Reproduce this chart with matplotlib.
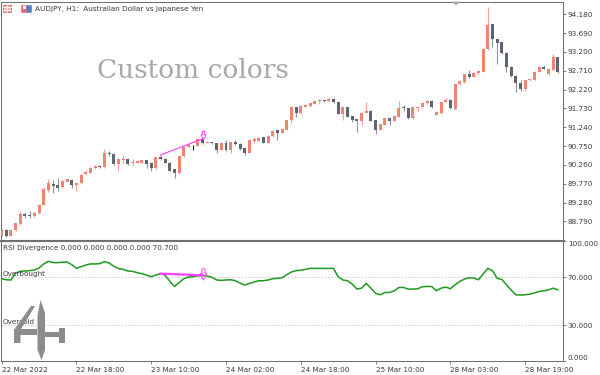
import matplotlib
matplotlib.use('Agg')
import matplotlib.pyplot as plt
from matplotlib.patches import Polygon, Rectangle
from matplotlib.path import Path
from matplotlib.transforms import Affine2D
from matplotlib.lines import Line2D
import numpy as np

# ---------------- data ----------------
opens = [88.43, 88.57, 88.41, 88.57, 88.72, 88.99, 88.96, 88.92, 89.00, 89.22,
         89.61, 89.77, 89.73, 89.68, 89.83, 89.87, 89.74, 89.78, 90.02, 90.06,
         90.17, 90.23, 90.20, 90.58, 90.55, 90.29, 90.39, 90.42, 90.30, 90.32,
         90.32, 90.39, 90.32, 90.17, 90.48, 90.42, 90.32, 90.15, 90.06, 90.49,
         90.74, 90.77, 90.76, 90.93, 90.84, 90.85, 90.82, 90.65, 90.84, 90.65,
         90.87, 90.81, 90.69, 90.58, 90.89, 90.89, 90.98, 90.84, 91.01, 91.17,
         91.10, 91.17, 91.43, 91.76, 91.60, 91.78, 91.80, 91.85, 91.93, 91.95,
         91.92, 91.97, 91.89, 91.59, 91.76, 91.53, 91.45, 91.41, 91.60, 91.67,
         91.43, 91.17, 91.31, 91.47, 91.41, 91.52, 91.75, 91.73, 91.47, 91.73,
         91.76, 91.86, 91.93, 91.57, 91.60, 91.91, 91.95, 91.71, 92.36, 92.43,
         92.63, 92.56, 92.65, 92.69, 93.27, 93.92, 93.54, 93.45, 93.18, 92.82,
         92.58, 92.39, 92.25, 92.46, 92.47, 92.69, 92.82, 92.63, 92.73, 93.06]
highs = [88.59, 88.59, 88.58, 88.75, 89.06, 89.03, 89.05, 89.03, 89.23, 89.68,
         89.90, 89.87, 89.91, 89.87, 89.90, 89.90, 89.80, 90.02, 90.10, 90.21,
         90.25, 90.25, 90.67, 90.62, 90.56, 90.44, 90.51, 90.43, 90.42, 90.37,
         90.40, 90.40, 90.33, 90.47, 90.52, 90.44, 90.33, 90.16, 90.51, 90.75,
         90.82, 90.78, 90.94, 90.96, 90.88, 90.86, 90.83, 90.85, 90.91, 90.87,
         90.91, 90.82, 90.70, 90.92, 91.00, 90.98, 90.99, 91.03, 91.16, 91.18,
         91.20, 91.44, 91.77, 91.77, 91.81, 91.83, 91.88, 91.95, 91.97, 91.96,
         92.04, 91.99, 91.90, 91.77, 91.77, 91.54, 91.46, 91.62, 91.91, 91.68,
         91.44, 91.33, 91.48, 91.48, 91.55, 91.93, 91.83, 91.75, 91.77, 91.79,
         91.88, 91.95, 91.94, 91.66, 91.91, 91.99, 91.97, 92.38, 92.46, 92.64,
         92.72, 92.67, 92.73, 93.30, 94.36, 93.93, 93.55, 93.46, 93.19, 92.83,
         92.59, 92.47, 92.48, 92.50, 92.70, 92.83, 92.86, 92.76, 93.15, 93.07]
lows = [88.41, 88.38, 88.40, 88.53, 88.70, 88.87, 88.87, 88.90, 88.99, 89.21,
        89.55, 89.52, 89.58, 89.66, 89.82, 89.65, 89.58, 89.77, 90.01, 90.05,
        90.16, 90.19, 90.19, 90.49, 90.27, 90.10, 90.32, 90.27, 90.26, 90.31,
        90.31, 90.17, 90.11, 90.16, 90.39, 90.30, 90.10, 89.93, 90.03, 90.48,
        90.72, 90.66, 90.75, 90.81, 90.83, 90.81, 90.58, 90.64, 90.63, 90.56,
        90.77, 90.65, 90.52, 90.57, 90.82, 90.88, 90.83, 90.83, 91.00, 90.91,
        91.09, 91.16, 91.36, 91.52, 91.59, 91.76, 91.78, 91.84, 91.85, 91.90,
        91.90, 91.88, 91.58, 91.43, 91.50, 91.38, 91.13, 91.30, 91.60, 91.40,
        91.07, 91.16, 91.30, 91.29, 91.40, 91.50, 91.66, 91.46, 91.46, 91.65,
        91.75, 91.85, 91.75, 91.56, 91.59, 91.90, 91.72, 91.70, 92.35, 92.39,
        92.53, 92.55, 92.63, 92.68, 93.26, 93.32, 92.88, 93.15, 92.69, 92.56,
        92.17, 92.19, 92.19, 92.45, 92.46, 92.67, 92.75, 92.61, 92.72, 92.65]
closes = [88.55, 88.40, 88.57, 88.74, 88.98, 88.93, 88.92, 89.02, 89.22, 89.63,
          89.78, 89.71, 89.66, 89.85, 89.89, 89.74, 89.78, 90.01, 90.09, 90.19,
          90.23, 90.20, 90.58, 90.55, 90.29, 90.42, 90.42, 90.29, 90.35, 90.36,
          90.39, 90.29, 90.17, 90.46, 90.42, 90.32, 90.11, 90.06, 90.49, 90.74,
          90.78, 90.77, 90.93, 90.82, 90.87, 90.82, 90.65, 90.84, 90.65, 90.86,
          90.81, 90.67, 90.58, 90.91, 90.93, 90.97, 90.84, 91.01, 91.14, 91.10,
          91.19, 91.43, 91.76, 91.60, 91.80, 91.81, 91.86, 91.93, 91.95, 91.92,
          91.98, 91.90, 91.59, 91.76, 91.52, 91.43, 91.41, 91.60, 91.67, 91.41,
          91.17, 91.32, 91.47, 91.41, 91.54, 91.73, 91.73, 91.47, 91.76, 91.78,
          91.86, 91.93, 91.76, 91.65, 91.90, 91.95, 91.73, 92.37, 92.45, 92.63,
          92.56, 92.66, 92.71, 93.29, 93.91, 93.53, 93.44, 93.17, 92.82, 92.58,
          92.39, 92.25, 92.47, 92.49, 92.69, 92.82, 92.77, 92.75, 93.06, 92.69]

rsi = [68.6, 67.7, 67.5, 73.3, 74.7, 75.0, 75.3, 75.8, 77.5, 80.9,
       83.1, 82.0, 82.0, 82.3, 82.5, 80.3, 77.2, 78.6, 80.0, 80.9,
       80.9, 81.1, 82.8, 81.7, 78.9, 77.0, 76.4, 75.0, 74.7, 73.6,
       72.8, 71.6, 70.2, 71.6, 72.8, 71.4, 66.3, 62.1, 65.5, 68.6,
       70.0, 70.2, 71.1, 71.4, 70.8, 69.7, 67.5, 67.2, 67.5, 67.7,
       66.9, 64.9, 63.3, 64.7, 65.8, 66.9, 66.9, 67.5, 68.6, 68.9,
       69.4, 71.9, 74.2, 75.3, 75.6, 76.4, 77.2, 77.2, 77.2, 77.2,
       77.2, 77.2, 70.2, 67.5, 66.9, 64.1, 59.9, 60.7, 64.7, 60.7,
       56.3, 55.2, 57.1, 57.1, 58.5, 61.3, 61.3, 59.9, 59.9, 60.2,
       61.9, 62.1, 62.1, 58.5, 60.7, 61.6, 60.2, 63.5, 66.3, 68.3,
       69.4, 69.1, 67.7, 72.5, 77.2, 75.3, 68.9, 68.0, 63.5, 59.1,
       55.2, 54.9, 55.2, 55.7, 56.8, 57.9, 58.5, 59.3, 60.7, 59.3]

# divergence marks (bar index, value)
div_bars = [34, 43]
div_price = [90.52, 90.94]
div_rsi = [72.8, 71.4]
arrow_bar = 43
arrow_price = 91.04
arrow_rsi = 72.2

price_ticks = [88.79, 89.28, 89.77, 90.26, 90.75, 91.24, 91.73, 92.22, 92.71, 93.20, 93.69, 94.18]
rsi_ticks = [0, 30, 70, 100]
time_tick_bars = [0, 16, 32, 48, 64, 80, 96, 112]
time_tick_labels = ['22 Mar 2022', '22 Mar 18:00', '23 Mar 10:00', '24 Mar 02:00',
                    '24 Mar 18:00', '25 Mar 10:00', '28 Mar 03:00', '28 Mar 19:00']
title = 'AUDJPY, H1:  Australian Dollar vs Japanese Yen'
ind_title = 'RSI Divergence 0.000 0.000 0.000 0.000 70.700'

# ---------------- style ----------------
BULL = '#EF8472'
BEAR = '#5E6570'
BULL_W = '#F3A396'
BEAR_W = '#8E949C'
DOJI = '#222222'
GREEN = '#1F9A1F'
MAG = '#FF3CFF'
AXC = '#6A6A6A'
TXT = '#3A3A3A'
FONT = ['DejaVu Sans']

W, H = 600, 375
fig = plt.figure(figsize=(6, 3.75), dpi=100)
fig.patch.set_facecolor('white')
PX = Affine2D().scale(1 / W, -1 / H).translate(0, 1) + fig.transFigure


def fx(p):
    return p / W


def fy(p):
    return 1 - p / H


ax = fig.add_axes([fx(1), fy(240), fx(563) - fx(1), fy(2) - fy(240)])
ax2 = fig.add_axes([fx(1), fy(361), fx(563) - fx(1), fy(241) - fy(361)])

o = np.array(opens); h = np.array(highs); l = np.array(lows); c = np.array(closes)
idx = np.arange(len(o))
doji = np.abs(c - o) < 0.005
up = (c >= o) & ~doji
dn = (c < o) & ~doji

ax.vlines(idx[up], l[up], h[up], color=BULL_W, lw=0.8, zorder=2)
ax.vlines(idx[dn], l[dn], h[dn], color=BEAR_W, lw=0.8, zorder=2)
ax.vlines(idx[doji], l[doji], h[doji], color=DOJI, lw=0.8, zorder=2)
body_lo = np.minimum(o, c)
body_h = np.maximum(np.abs(c - o), 0.028)
ax.bar(idx[up], body_h[up], bottom=body_lo[up], width=0.64, color=BULL, lw=0, zorder=3)
ax.bar(idx[dn], body_h[dn], bottom=body_lo[dn], width=0.64, color=BEAR, lw=0, zorder=3)
ax.bar(idx[doji], 0.02, bottom=body_lo[doji], width=0.9, color=DOJI, lw=0, zorder=3)

ax.plot(div_bars, div_price, color=MAG, lw=0.8, zorder=4)

arrow = Path([(-0.28, 1), (0.28, 1), (0.28, 0.15), (0.6, 0.15), (0, -1), (-0.6, 0.15),
              (-0.28, 0.15), (-0.28, 1)],
             [Path.MOVETO] + [Path.LINETO] * 6 + [Path.CLOSEPOLY])
ax.plot([arrow_bar], [arrow_price], marker=arrow, ms=6, mfc='none', mec=MAG, mew=0.7, zorder=5)

XL = (-0.13, 120.09)
ax.set_xlim(*XL)
ax.set_ylim(88.308, 94.501)
ax.set_xticks([])
ax.yaxis.tick_right()
ax.set_yticks(price_ticks)
ax.set_yticklabels(['%.3f' % v for v in price_ticks])
ax.tick_params(axis='y', direction='out', length=2.2, width=0.6, color=AXC, pad=1.2,
               labelsize=5.2, labelcolor=TXT)
for s in ['left', 'top', 'right']:
    ax.spines[s].set_color(AXC)
    ax.spines[s].set_linewidth(0.7)
ax.spines['bottom'].set_visible(False)

ax.text(97, 71, 'Custom colors', transform=PX, fontsize=19, color='#A8A8A8',
        family='DejaVu Serif', va='center', ha='left')

# RSI panel
ax2.plot(idx, rsi, color=GREEN, lw=1.1, zorder=3)
ax2.plot(div_bars, div_rsi, color=MAG, lw=1.6, zorder=4)
ax2.plot([arrow_bar], [arrow_rsi], marker=arrow, ms=8, mfc='none', mec=MAG, mew=0.7, zorder=5)
for lv in (70, 30):
    ax2.axhline(lv, color='#C4C4C4', lw=0.6, dashes=(2, 2), zorder=1)
ax2.set_xlim(*XL)
ax2.set_ylim(0, 100)
ax2.yaxis.tick_right()
ax2.set_yticks(rsi_ticks)
ax2.set_yticklabels(['%.3f' % v for v in rsi_ticks])
ax2.tick_params(axis='y', direction='out', length=2.2, width=0.6, color=AXC, pad=1.2,
                labelsize=5.2, labelcolor=TXT)
for t in ax2.yaxis.get_major_ticks():
    v = t.get_loc()
    if v >= 100:
        t.label2.set_va('top')
    elif v <= 0:
        t.label2.set_va('bottom')
ax2.set_xticks(time_tick_bars)
ax2.set_xticklabels(time_tick_labels, ha='left')
ax2.tick_params(axis='x', direction='out', length=2.5, width=0.6, color=AXC, pad=1.5,
                labelsize=5.2, labelcolor=TXT)
for s in ['left', 'bottom', 'right']:
    ax2.spines[s].set_color(AXC)
    ax2.spines[s].set_linewidth(0.7)
ax2.spines['top'].set_visible(False)

ax2.text(2.7, 275.6, 'Overbought', transform=PX, fontsize=5.2, color=TXT, va='baseline', family=FONT)
ax2.text(2.7, 324.0, 'Oversold', transform=PX, fontsize=5.2, color=TXT, va='baseline', family=FONT)
fig.text(2.7, 248.3, ind_title, transform=PX, fontsize=5.2, color=TXT, va='center', family=FONT)
fig.text(35, 9.2, title, transform=PX, fontsize=5.2, color=TXT, va='center', family=FONT)

# separator between panels
fig.add_artist(Line2D([0, 563.5], [240.5, 240.5], transform=PX, color='#707070', lw=1.5))

# top-left icons
fig.add_artist(Rectangle((3, 4.5), 8, 7.5, transform=PX, fc='#F6B3B0', ec='#E0605A', lw=0.6))
for yy in (7, 9.5):
    fig.add_artist(Line2D([3, 11], [yy, yy], transform=PX, color='white', lw=0.6))
fig.add_artist(Line2D([7, 7], [4.5, 12], transform=PX, color='white', lw=0.6))
fig.add_artist(Rectangle((21, 4.5), 5, 7.5, transform=PX, fc='#E86A6A', ec='#E86A6A', lw=0.4))
fig.add_artist(Rectangle((26, 4.5), 5, 7.5, transform=PX, fc='#5A7FC0', ec='#5A7FC0', lw=0.4))
fig.add_artist(Rectangle((22.5, 6), 3, 3, transform=PX, fc='white', ec='none'))

# top shift marker
fig.add_artist(Polygon([(452, 1.5), (460, 1.5), (456, 5.5)], closed=True, transform=PX,
                       fc='#A8A8A8', ec='none'))

# watermark logo
LOGO = '#8C8C8C'
logo_polys = [
    [(40.5, 300), (45, 313), (45, 350), (41.5, 360), (37.5, 350), (37.5, 315)],
    [(31, 306), (35, 306), (20.5, 330), (20.5, 343), (14, 343), (14, 330)],
    [(14, 329), (37, 329), (37, 335), (14, 335)],
    [(45, 332), (59, 332), (59, 337), (45, 337)],
    [(59, 328), (64.5, 328), (64.5, 343), (59, 343)],
]
for pts in logo_polys:
    fig.add_artist(Polygon(pts, closed=True, transform=PX, fc=LOGO, ec='none'))

fig.savefig('out.png', dpi=100, facecolor='white')
